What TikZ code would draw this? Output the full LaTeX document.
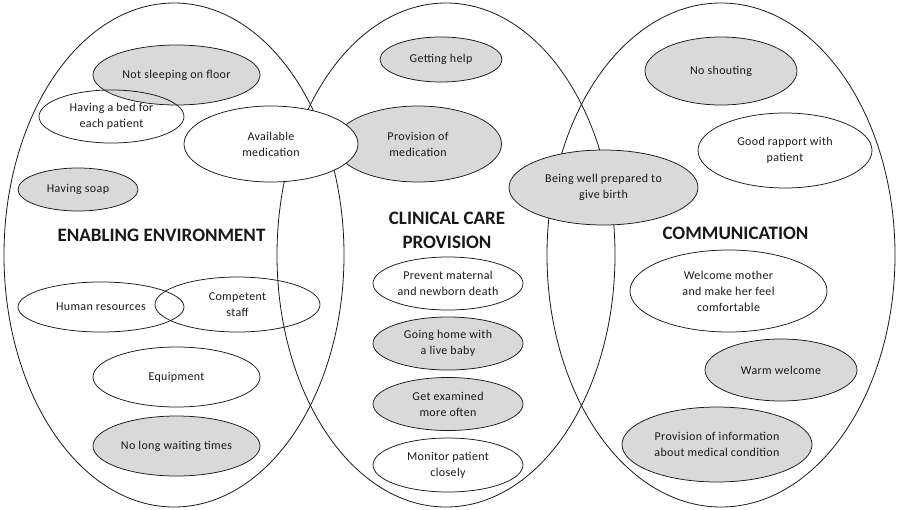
\documentclass[tikz,border=0pt]{standalone}
\usepackage{fontspec}
\setmainfont{Carlito}
\newfontfamily\lblfont[LetterSpace=3]{Carlito}
\usetikzlibrary{shapes.geometric}
\definecolor{shade}{RGB}{217,217,217}
\definecolor{ink}{RGB}{25,25,25}
\begin{document}
\begin{tikzpicture}[x=1pt,y=-1pt,
  big/.style={ellipse, draw=ink, line width=0.8pt, inner sep=0pt},
  bub/.style={ellipse, draw=ink, line width=0.75pt, inner sep=0pt, align=center, text=ink, font=\lblfont\fontsize{12}{16}\selectfont},
  grey/.style={bub, fill=shade},
  whitebub/.style={bub, fill=white},
  head/.style={font=\fontsize{19}{24}\selectfont\bfseries, align=center, text=ink}]
\useasboundingbox[fill=white] (0,0) rectangle (897,509);
% large circles
\node[big, minimum width=340pt, minimum height=504pt] (env) at (174,255) {};
\node[big, minimum width=338pt, minimum height=504pt] (clin) at (446,255) {};
\node[big, minimum width=348pt, minimum height=504pt] (comm) at (721,255) {};
% grey items
\node[grey, minimum width=167pt, minimum height=60pt] (sleep) at (176.5,75) {Not sleeping on floor};
\node[grey, minimum width=120pt, minimum height=43pt] (soap) at (78,189.5) {Having soap};
\node[grey, minimum width=122pt, minimum height=45pt] (help) at (441,59.5) {Getting help};
\node[grey, minimum width=167pt, minimum height=76pt] (provmed) at (418,144) {Provision of\\medication};
\node[grey, minimum width=189pt, minimum height=75pt] (prep) at (603.5,187.5) {Being well prepared to\\give birth};
\node[grey, minimum width=150pt, minimum height=53pt] (home) at (448,343.5) {Going home with\\a live baby};
\node[grey, minimum width=150pt, minimum height=53pt] (exam) at (448,404) {Get examined\\more often};
\node[grey, minimum width=152pt, minimum height=68pt] (shout) at (721,71) {No shouting};
\node[grey, minimum width=152pt, minimum height=62pt] (warm) at (781,370) {Warm welcome};
\node[grey, minimum width=190pt, minimum height=75pt] (info) at (717,444.5) {Provision of information\\about medical condition};
\node[grey, minimum width=167pt, minimum height=60pt] (wait) at (176.5,446) {No long waiting times};
% white items
\node[whitebub, minimum width=174pt, minimum height=76pt] (avail) at (271,144) {Available\\medication};
\node[whitebub, minimum width=150pt, minimum height=53pt] (prevent) at (448,283.5) {Prevent maternal\\and newborn death};
\node[whitebub, minimum width=150pt, minimum height=54pt] (monitor) at (448,465) {Monitor patient\\closely};
\node[whitebub, minimum width=167pt, minimum height=60pt] (equip) at (176.5,377) {Equipment};
\node[whitebub, minimum width=174pt, minimum height=75pt] (rapport) at (785,150.5) {Good rapport with\\patient};
\node[whitebub, minimum width=197pt, minimum height=82pt] (welcome) at (728.5,291) {Welcome mother\\and make her feel\\comfortable};
% outline-only items
\node[bub, minimum width=145pt, minimum height=53pt] (bed) at (111.5,116.5) {Having a bed for\\each patient};
\node[bub, minimum width=166pt, minimum height=50pt] (hr) at (101,307) {Human resources};
\node[bub, minimum width=165pt, minimum height=55pt] (staff) at (237.5,304.5) {Competent\\staff};
% headings
\node[head] (henv) at (161.5,235) {ENABLING ENVIRONMENT};
\node[head] (hclin) at (447,230) {CLINICAL CARE\\PROVISION};
\node[head] (hcomm) at (735.5,233) {COMMUNICATION};
\end{tikzpicture}
\end{document}
